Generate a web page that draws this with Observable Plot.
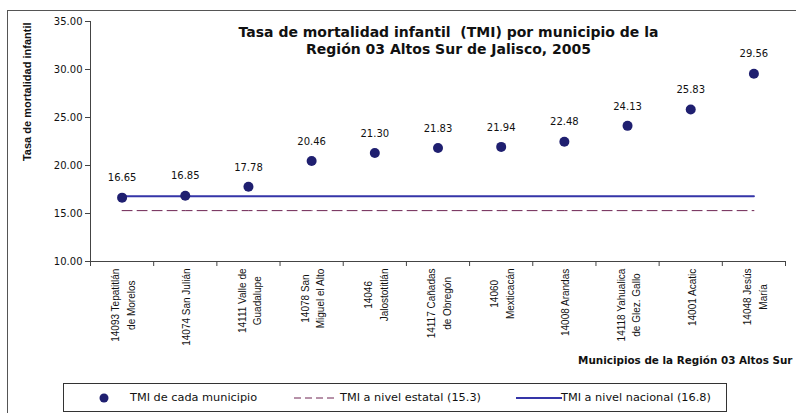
<!DOCTYPE html>
<html><head><meta charset="utf-8">
<script src="https://cdn.jsdelivr.net/npm/d3@7"></script>
<script src="https://cdn.jsdelivr.net/npm/@observablehq/plot@0.6"></script>
<style>
body{margin:0;background:#fff;}
#wrap{position:relative;width:796px;height:413px;overflow:hidden;background:#fff;}
#frame{position:absolute;left:7px;top:10px;width:830px;height:430px;border:1.5px solid #555;box-sizing:border-box;}
#chart{position:absolute;left:0;top:0;}
#legend{position:absolute;left:63px;top:383px;width:664px;height:29px;border:1px solid #333;box-sizing:border-box;background:#fff;font-family:"DejaVu Sans";font-size:11.3px;color:#111;}
#legend .it{position:absolute;top:0;height:27px;line-height:27px;white-space:nowrap;}
#legend svg{position:absolute;}
</style>
</head><body>
<div id="wrap">
  <div id="frame"></div>
  <div id="chart"></div>
  <div id="legend"></div>
</div>
<script>
const categories = [
  "14093 Tepatitlán\nde Morelos",
  "14074 San Julián",
  "14111 Valle de\nGuadalupe",
  "14078 San\nMiguel el Alto",
  "14046\nJalostotitlán",
  "14117 Cañadas\nde Obregón",
  "14060\nMexticacán",
  "14008 Arandas",
  "14118 Yahualica\nde Glez. Gallo",
  "14001 Acatic",
  "14048 Jesús\nMaría"
];
const values = [16.65, 16.85, 17.78, 20.46, 21.30, 21.83, 21.94, 22.48, 24.13, 25.83, 29.56];
const stateRate = 15.3;
const nationalRate = 16.8;
const yTicks = [10, 15, 20, 25, 30, 35];
const titleText = "Tasa de mortalidad infantil \u00a0(TMI) por municipio de la\nRegión 03 Altos Sur de Jalisco, 2005";
const yLabel = "Tasa de mortalidad infantil";
const xLabel = "Municipios de la Región 03 Altos Sur";
const legendLabels = ["TMI de cada municipio", "TMI a nivel estatal (15.3)", "TMI a nivel nacional (16.8)"];

const dotColor = "#1f1f70";
const natColor = "#3535a8";
const stateColor = "#6e2452";

const data = categories.map((c, i) => ({c, x: i + 0.5, v: values[i]}));
const stateLine = categories.map((c, i) => ({x: i + 0.5, v: stateRate}));
const natLine = categories.map((c, i) => ({x: i + 0.5, v: nationalRate}));

const ctx = document.createElement("canvas").getContext("2d");
const lblFont = 10;
ctx.font = lblFont + "px 'Liberation Sans'";
const labelMarks = data.map(d => {
  const w = Math.max(...d.c.split("\n").map(s => ctx.measureText(s).width));
  return Plot.text([d], {
    x: "x", frameAnchor: "bottom", text: "c", rotate: -90,
    textAnchor: "middle", lineAnchor: "middle", lineHeight: 1.55,
    dy: 7 + w / 2, fontSize: lblFont, fontFamily: "Liberation Sans", fill: "#111"
  });
});

const chart = Plot.plot({
  width: 796, height: 413,
  marginLeft: 90, marginRight: 11, marginTop: 21, marginBottom: 152,
  style: {fontFamily: "DejaVu Sans", fontSize: "10px", color: "#111", background: "transparent", overflow: "visible"},
  x: {domain: [0, categories.length], axis: null},
  y: {domain: [10, 35], axis: null},
  marks: [
    Plot.ruleX([0], {stroke: "#444"}),
    Plot.ruleY([10], {stroke: "#444"}),
    Plot.axisY({ticks: yTicks, tickFormat: d => d.toFixed(2), tickSize: 5, tickPadding: 3, stroke: "#444", fill: "#111", fontSize: 10, label: null}),
    Plot.axisX({ticks: d3.range(0, categories.length + 1), tickFormat: () => "", tickSize: 5, stroke: "#444", label: null}),
    Plot.line(stateLine, {x: "x", y: "v", stroke: stateColor, strokeWidth: 1, strokeDasharray: "10,5"}),
    Plot.line(natLine, {x: "x", y: "v", stroke: natColor, strokeWidth: 2}),
    Plot.dot(data, {x: "x", y: "v", r: 5, fill: dotColor, stroke: "none"}),
    Plot.text(data, {x: "x", y: "v", text: d => d.v.toFixed(2), dy: -19.5, fontSize: 10, fill: "#111"}),
    ...labelMarks,
    Plot.text([titleText], {frameAnchor: "top", dx: 10.5, dy: 18.5, lineAnchor: "middle", lineHeight: 1.21, fontSize: 14, fontWeight: "bold", fill: "#111", text: d => d}),
    Plot.text([yLabel], {frameAnchor: "top-left", dx: -63, dy: 1, rotate: -90, textAnchor: "end", lineAnchor: "middle", fontSize: 11, fontWeight: "bold", fontFamily: "Liberation Sans", fill: "#111", text: d => d}),
    Plot.text([xLabel], {frameAnchor: "bottom-right", dx: 7, dy: 99, textAnchor: "end", lineAnchor: "middle", fontSize: 10.4, fontWeight: "bold", fill: "#111", text: d => d})
  ]
});
document.getElementById("chart").appendChild(chart);

// Legend
const lg = document.getElementById("legend");
function addSvg(left, w, inner) {
  const s = document.createElementNS("http://www.w3.org/2000/svg", "svg");
  s.setAttribute("width", w); s.setAttribute("height", 27);
  s.style.left = left + "px"; s.style.top = "0px";
  s.innerHTML = inner;
  lg.appendChild(s);
}
function addText(left, t) {
  const d = document.createElement("div");
  d.className = "it"; d.style.left = left + "px"; d.textContent = t;
  lg.appendChild(d);
}
addSvg(34, 12, `<circle cx="6" cy="14" r="4.5" fill="${dotColor}"/>`);
addText(66, legendLabels[0]);
addSvg(229, 46, `<line x1="1" x2="45" y1="14" y2="14" stroke="${stateColor}" stroke-width="1" stroke-dasharray="7,4"/>`);
addText(276, legendLabels[1]);
addSvg(452, 46, `<line x1="0" x2="46" y1="14" y2="14" stroke="${natColor}" stroke-width="2"/>`);
addText(497, legendLabels[2]);
</script>
</body></html>
